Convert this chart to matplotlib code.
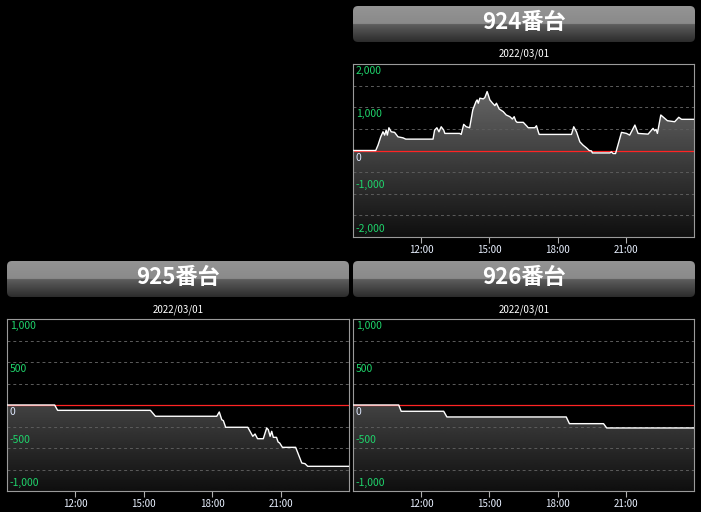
import matplotlib.pyplot as plt
import numpy as np
from matplotlib.patches import FancyBboxPatch, PathPatch

plt.rcParams['font.family'] = ['Noto Sans CJK JP', 'DejaVu Sans']

# data: time of day in hours, balance values
t924 = [9.0, 10.0, 10.10, 10.22, 10.32, 10.39, 10.46, 10.51, 10.58, 10.68, 10.83, 10.98,
        11.20, 11.32, 12.52, 12.59, 12.69, 12.78, 12.88, 12.99, 13.04, 13.69, 13.76, 13.87,
        13.98, 14.13, 14.27, 14.41, 14.46, 14.51, 14.58, 14.73, 14.80, 14.90, 14.95, 15.02,
        15.14, 15.24, 15.31, 15.43, 15.61, 15.74, 15.90, 16.01, 16.09, 16.16, 16.22, 16.49,
        16.63, 16.71, 17.00, 17.07, 17.15, 17.19, 18.61, 18.71, 18.83, 18.98, 19.12, 19.27,
        19.39, 19.49, 19.53, 20.30, 20.37, 20.44, 20.55, 20.81, 21.03, 21.17, 21.40, 21.54,
        21.98, 22.20, 22.27, 22.33, 22.39, 22.54, 22.83, 23.15, 23.33, 23.45, 24.0]
v924 = [0, 0, 123, 316, 433, 356, 472, 356, 526, 433, 419, 316,
        293, 263, 263, 472, 526, 433, 549, 472, 395, 395, 372, 605,
        549, 526, 940, 1131, 1170, 1093, 1209, 1193, 1224, 1363, 1286, 1170,
        1093, 1038, 1093, 961, 898, 821, 782, 728, 782, 682, 651, 651,
        573, 526, 526, 573, 433, 372, 372, 549, 433, 200, 123, 60,
        0, -10, -56, -56, -33, -70, -70, 419, 395, 356, 588, 395,
        379, 512, 456, 488, 395, 821, 689, 665, 768, 721, 721]

t925 = [9.0, 11.09, 11.22, 15.29, 15.51, 18.20, 18.31, 18.42, 18.49, 18.59, 19.56, 19.66,
        19.78, 19.88, 19.99, 20.24, 20.39, 20.46, 20.54, 20.61, 20.68, 20.82, 20.89, 20.96,
        21.08, 21.66, 21.93, 22.07, 22.19, 24.0]
v925 = [0, 0, -62, -62, -131, -131, -81, -171, -182, -259, -259, -306,
        -364, -337, -392, -392, -267, -287, -364, -306, -376, -376, -430, -442,
        -492, -492, -675, -682, -713, -713]

t926 = [9.0, 11.01, 11.12, 12.99, 13.13, 18.38, 18.52, 20.02, 20.16, 24.0]
v926 = [0, 0, -73, -73, -139, -139, -217, -217, -267, -267]

x_ticks = [12, 15, 18, 21]
x_labels = ['12:00', '15:00', '18:00', '21:00']
date_text = '2022/03/01'

W, H = 701, 512
fig = plt.figure(figsize=(W / 100, H / 100), dpi=100, facecolor='black')


def px_axes(x0, y0, x1, y1):
    return fig.add_axes([x0 / W, 1 - y1 / H, (x1 - x0) / W, (y1 - y0) / H])


def title_bar(x0, y0, x1, y1, text):
    ax = px_axes(x0, y0, x1, y1)
    w, h = x1 - x0, y1 - y0
    ax.axis('off')
    n = 200
    g = np.empty(n)
    half = n // 2
    g[:half] = np.linspace(0.58, 0.54, half)
    g[half:] = np.linspace(0.37, 0.17, n - half)
    img = np.repeat(g[:, None, None], 3, axis=2)
    im = ax.imshow(img, extent=[0, w, 0, h], aspect='auto', origin='upper')
    box = FancyBboxPatch((0, 0), w, h, boxstyle='round,pad=0,rounding_size=5',
                         transform=ax.transData, facecolor='none', edgecolor='none')
    ax.add_patch(box)
    im.set_clip_path(box)
    ax.set_xlim(0, w)
    ax.set_ylim(0, h)
    ax.text(w / 2, h / 2 + 1.5, text, color='white', fontsize=16, fontweight='bold',
            ha='center', va='center')


def panel(x0, y0, x1, y1, t, v, lim, step, label_vals):
    ax = px_axes(x0, y0, x1, y1)
    ax.set_facecolor('black')

    poly = ax.fill_between(t, v, -lim, facecolor='none', edgecolor='none')
    grad = np.linspace(0.06, 0.46, 256)[:, None]
    im = ax.imshow(grad, extent=[9, 24, -lim, lim], aspect='auto', origin='lower',
                   cmap='gray', vmin=0, vmax=1, zorder=1)
    im.set_clip_path(PathPatch(poly.get_paths()[0], transform=ax.transData))

    ax.axhline(0, color='#ff2424', lw=0.9, zorder=2)
    ax.plot(t, v, color='white', lw=1.0, zorder=3)

    ax.set_xlim(9, 24)
    ax.set_ylim(-lim, lim)
    ax.set_yticks(np.arange(-lim, lim + 1, step))
    ax.grid(axis='y', color='#5c5c5c', linestyle=(0, (3, 3)), linewidth=0.7)
    ax.tick_params(axis='y', length=0, labelleft=False)
    ax.set_xticks(x_ticks)
    ax.set_xticklabels(x_labels)
    ax.tick_params(axis='x', colors='#b0b0b0', labelcolor='#e8f0ff', length=4,
                   width=0.8, labelsize=7, pad=2)
    for s in ax.spines.values():
        s.set_color('#9a9a9a')
        s.set_linewidth(0.8)

    for val in label_vals:
        col = '#dfe9ff' if val == 0 else '#1fd56c'
        if val >= 0:
            ax.annotate(f'{val:,}', xy=(0, val), xycoords=('axes fraction', 'data'),
                        xytext=(2, -1.5), textcoords='offset points', ha='left', va='top',
                        color=col, fontsize=7.5, zorder=4)
        else:
            ax.annotate(f'{val:,}', xy=(0, val), xycoords=('axes fraction', 'data'),
                        xytext=(2, 2.5), textcoords='offset points', ha='left', va='bottom',
                        color=col, fontsize=7.5, zorder=4)
    return ax


# 924
title_bar(353, 6, 695, 42, '924番台')
fig.text(524 / W, 1 - 54 / H, date_text, color='white', fontsize=7, ha='center', va='center')
panel(353, 64, 694, 237, t924, v924, 2000, 500, [2000, 1000, 0, -1000, -2000])

# 925
title_bar(7, 261, 349, 297, '925番台')
fig.text(178 / W, 1 - 310 / H, date_text, color='white', fontsize=7, ha='center', va='center')
panel(7, 319, 349, 491, t925, v925, 1000, 250, [1000, 500, 0, -500, -1000])

# 926
title_bar(353, 261, 695, 297, '926番台')
fig.text(524 / W, 1 - 310 / H, date_text, color='white', fontsize=7, ha='center', va='center')
panel(353, 319, 694, 491, t926, v926, 1000, 250, [1000, 500, 0, -500, -1000])

fig.savefig('out.png', dpi=100, facecolor='black')
